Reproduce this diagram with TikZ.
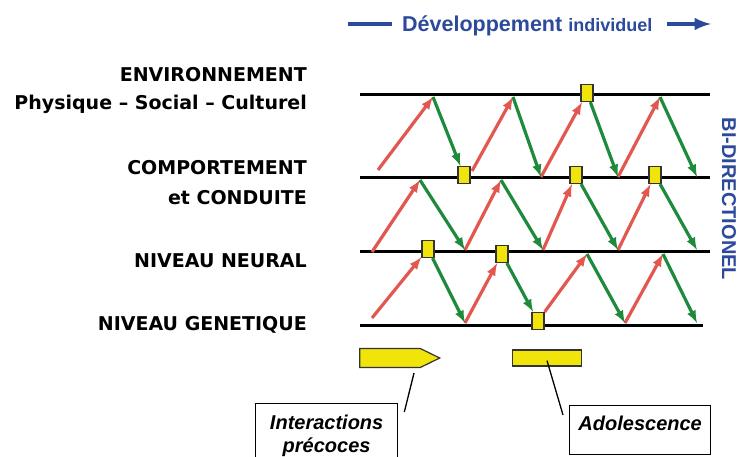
\documentclass[tikz,border=0pt]{standalone}
\usepackage{fontspec}
\setmainfont{Liberation Sans}
\newfontfamily\levelfont{DejaVu Sans}
\usetikzlibrary{positioning,shapes.symbols}
\definecolor{devblue}{RGB}{44,74,156}
\definecolor{upred}{RGB}{226,88,80}
\definecolor{downgreen}{RGB}{30,138,60}
\definecolor{boxyellow}{RGB}{240,228,10}
\tikzset{
  layerlabel/.style={anchor=base east,inner sep=0,font=\levelfont\bfseries\fontsize{19}{22}\selectfont},
  layer/.style={line width=3pt},
  up/.style={upred,line width=3.2pt,-latex},
  down/.style={downgreen,line width=3.2pt,-latex},
  yellowbox/.style={draw=black!80,fill=boxyellow,line width=1.2pt,minimum width=12pt,minimum height=17pt,inner sep=0},
  tagbox/.style={draw,line width=1.3pt,inner sep=0,font=\bfseries\itshape\fontsize{20}{23}\selectfont},
  leader/.style={line width=1.3pt}
}

\begin{document}
\begin{tikzpicture}[x=1pt,y=-1pt]
  \useasboundingbox (0,0) rectangle (739,457);

  % title
  \node[anchor=base west,inner sep=0,text=devblue] (dev) at (402,32)
    {\bfseries\fontsize{21.5}{24}\selectfont D\'eveloppement \fontsize{18}{20}\selectfont individuel};
  \coordinate (ds) at (348,24);
  \coordinate (de) at (667,24);
  \draw[devblue,line width=4pt] (ds) -- ++(44,0);
  \draw[devblue,line width=4.5pt,-latex] (de) -- ++(44,0);
  \node[rotate=-90,text=devblue,inner sep=0,font=\bfseries\fontsize{20}{24}\selectfont] (bidir) at (729,199) {BI-DIRECTIONEL};

  % levels
  \node[layerlabel] (env1) at (307,82) {ENVIRONNEMENT};
  \node[layerlabel] (env2) at (307,110) {Physique – Social – Culturel};
  \node[layerlabel] (comp1) at (307,175) {COMPORTEMENT};
  \node[layerlabel] (comp2) at (307,205) {et CONDUITE};
  \node[layerlabel] (neur) at (307,268) {NIVEAU NEURAL};
  \node[layerlabel] (gene) at (307,330) {NIVEAU GENETIQUE};

  \draw[layer] (360,95) -- (710,95);
  \draw[layer] (360,178) -- (710,178);
  \draw[layer] (360,252) -- (710,252);
  \draw[layer] (360,325) -- (703,325);

  % markers
  \node[yellowbox] (yE) at (587,93) {};
  \node[yellowbox] (yA1) at (464,175) {};
  \node[yellowbox] (yB1) at (576,175) {};
  \node[yellowbox] (yB2) at (655,175) {};
  \node[yellowbox] (yC1) at (428,249) {};
  \node[yellowbox] (yC2) at (502,254) {};
  \node[yellowbox] (yD) at (538,321) {};

  \path (378,170) coordinate (a0) (433,97) coordinate (a1) (472,171) coordinate (a2)
        (513,97) coordinate (a3) (541,177) coordinate (a4) (618,177) coordinate (a6)
        (660,97) coordinate (a7) (697,177) coordinate (a8);
  \path (372,252) coordinate (b0) (420,180) coordinate (b1) (465,250) coordinate (b2)
        (501,180) coordinate (b3) (543,250) coordinate (b4) (618,250) coordinate (b5)
        (697,250) coordinate (b6);
  \path (372,318) coordinate (c0) (465,323) coordinate (c1) (587,254) coordinate (c2)
        (625,323) coordinate (c3) (663,254) coordinate (c4) (697,323) coordinate (c5);

  \foreach \s/\e in {a0/a1,a2/a3,a4/yE,a6/a7,b0/b1,b2/b3,b4/yB1,b5/yB2,c0/yC1,c1/yC2,yD/c2,c3/c4}
    \draw[up] (\s) -- (\e);
  \foreach \s/\e in {a1/yA1,a3/a4,yE/a6,a7/a8,b1/b2,b3/b4,yB1/b5,yB2/b6,yC1/c1,yC2/yD,c2/c3,c4/c5}
    \draw[down] (\s) -- (\e);

  % periods
  \node[signal,signal to=east,signal pointer angle=52,draw=black!80,fill=boxyellow,line width=1.2pt,
        minimum width=80pt,minimum height=19pt,inner sep=0] (early) at (390,358) {};
  \node[draw=black!80,fill=boxyellow,line width=1.2pt,minimum width=69pt,minimum height=16pt,inner sep=0] (teen) at (547,358) {};
  \node[tagbox,anchor=north west,minimum width=142pt,minimum height=64pt,align=center] (inter) at (255,403)
    {Interactions\\pr\'ecoces};
  \node[tagbox,anchor=north west,minimum width=141pt,text height=21pt,text depth=20pt,inner ysep=4pt] (adol) at (569,405)
    {Adolescence};
  \draw[leader] ([shift={(24,5)}]early.south) -- ([shift={(6,9)}]inter.north east);
  \draw[leader] ([yshift=6]teen.south) -- ([shift={(-6,10)}]adol.north west);
\end{tikzpicture}
\end{document}
